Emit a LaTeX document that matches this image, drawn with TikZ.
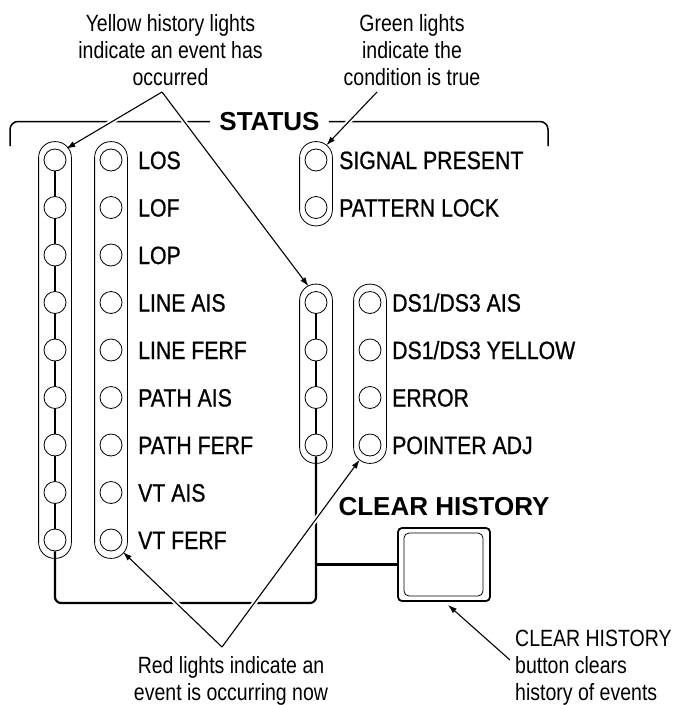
\documentclass[tikz,border=0pt]{standalone}
\usepackage{fontspec}
\setmainfont{Liberation Sans}
\newfontfamily\narrowfont{Liberation Sans}[FakeStretch=0.85, FakeBold=0.8]
\newfontfamily\notefont{Liberation Sans}[FakeStretch=0.83]
\usetikzlibrary{arrows.meta,calc,fit}

\begin{document}
\begin{tikzpicture}[x=1pt, y=-1pt, >={Latex[length=9pt,width=6pt]},
  lamp/.style={circle, draw, fill=white, minimum size=22pt, inner sep=0pt, line width=0.8pt},
  capsule/.style={draw, rounded corners=16pt, inner xsep=5pt, inner ysep=7pt, line width=0.8pt},
  wire/.style={line width=2.2pt, rounded corners=6pt},
  bracket/.style={line width=1.5pt, rounded corners=8pt},
  tag/.style={anchor=base west, inner sep=0pt, font=\narrowfont\fontsize{25}{30}\selectfont},
  note/.style={inner sep=0pt, font=\notefont\fontsize{23.5}{27}\selectfont},
  title/.style={inner sep=0pt, font=\fontsize{26}{30}\selectfont\bfseries},
  callout/.style={->, line width=1.1pt, preaction={draw=white, line width=5pt, -, shorten <=8pt, shorten >=12pt}}]
  \useasboundingbox (0,0) rectangle (675,705);

  % status bracket
  \node[title, inner xsep=9pt] (status) at (269.5,121.5) {STATUS};
  \coordinate (bl) at (10,146);
  \coordinate (br) at (548,146);
  \draw[bracket] (status.west) -| (bl);
  \draw[bracket] (status.east) -| (br);

  % lamps
  \foreach \i in {1,...,9} {
    \node[lamp] (h1-\i) at (55,{160+47.5*(\i-1)}) {};
    \node[lamp] (r1-\i) at (111,{160+47.5*(\i-1)}) {};
  }
  \foreach \i in {4,...,7} {
    \node[lamp] (h2-\i) at (316,{160+47.5*(\i-1)}) {};
    \node[lamp] (r2-\i) at (370,{160+47.5*(\i-1)}) {};
  }
  \foreach \i in {1,2}
    \node[lamp] (g-\i) at (316,{160+47.5*(\i-1)}) {};

  \node[capsule, fit=(h1-1)(h1-9)] (hcap1) {};
  \node[capsule, fit=(r1-1)(r1-9)] (rcap1) {};
  \node[capsule, fit=(h2-4)(h2-7)] (hcap2) {};
  \node[capsule, fit=(r2-4)(r2-7)] (rcap2) {};
  \node[capsule, fit=(g-1)(g-2)] (gcap) {};

  % clear history button
  \node[title] (cleartitle) at (444,507) {CLEAR HISTORY};
  \node[draw, line width=1.8pt, rounded corners=4pt, minimum width=92pt, minimum height=73pt, inner sep=0pt] (btn) at (444,564.5) {};
  \node[draw, line width=0.8pt, rounded corners=5pt, minimum width=79pt, minimum height=63pt, inner sep=0pt] (btnface) at (443.5,564.5) {};

  % history wiring
  \foreach \i [evaluate=\i as \j using int(\i+1)] in {1,...,8}
    \draw[wire] (h1-\i.south) -- (h1-\j.north);
  \foreach \i [evaluate=\i as \j using int(\i+1)] in {4,...,6}
    \draw[wire] (h2-\i.south) -- (h2-\j.north);
  \coordinate (wirebot) at (0,603);
  \draw[wire] (h1-9.south) -- (h1-9 |- wirebot) -- (h2-7 |- wirebot) -- (h2-7.south);
  \draw[wire] (h2-7 |- btn.west) -- (btn.west);

  % labels
  \foreach \i/\txt in {1/LOS, 2/LOF, 3/LOP, 4/LINE AIS, 5/LINE FERF, 6/PATH AIS, 7/PATH FERF, 8/VT AIS, 9/VT FERF}
    \node[tag] (lbl-\i) at (138,{169+47.5*(\i-1)}) {\txt};
  \foreach \i/\txt in {1/SIGNAL PRESENT, 2/PATTERN LOCK}
    \node[tag] (glbl-\i) at (339,{169+47.5*(\i-1)}) {\txt};
  \foreach \i/\txt in {4/{DS1/DS3 AIS}, 5/{DS1/DS3 YELLOW}, 6/ERROR, 7/POINTER ADJ}
    \node[tag] (rlbl-\i) at (392,{169+47.5*(\i-1)}) {\txt};

  % notes and callouts
  \node[note, align=center, anchor=north] (yellownote) at (170.5,14.5) {Yellow history lights\\indicate an event has\\occurred};
  \node[note, align=center, anchor=north] (greennote) at (412,14.5) {Green lights\\indicate the\\condition is true};
  \node[note, align=center, anchor=north] (rednote) at (231,656.5) {Red lights indicate an\\event is occurring now};
  \node[note, align=left, anchor=north west] (clearnote) at (515,630) {CLEAR HISTORY\\button clears\\history of events};

  \coordinate (yapex) at (162,92);
  \coordinate (gapex) at (377,92);
  \coordinate (rapex) at (222,647);
  \coordinate (capex) at (510,660);
  \draw[callout] (yapex) -- ($(h1-1)+(-45:16)$);
  \draw[callout] (yapex) -- ($(h2-4)+(-115:18)$);
  \draw[callout] (gapex) -- ($(g-1)+(-55:18)$);
  \draw[callout] (rapex) -- ($(r1-9)+(45:17)$);
  \draw[callout] (rapex) -- ($(r2-7)+(125:18)$);
  \draw[callout] (capex) -- ($(btn.south)+(4,3)$);
\end{tikzpicture}
\end{document}
